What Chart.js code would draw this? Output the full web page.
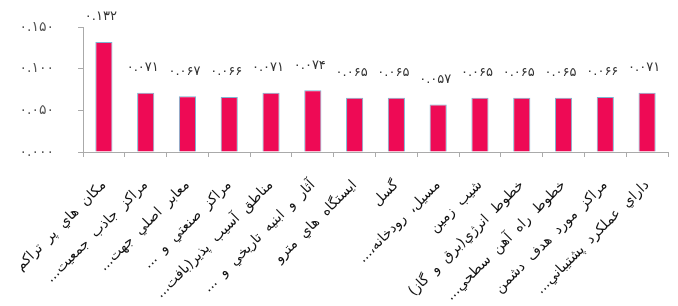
<!DOCTYPE html>
<html>
<head>
<meta charset="utf-8">
<script src="https://cdn.jsdelivr.net/npm/chart.js@4/dist/chart.umd.min.js"></script>
<style>
  html, body { margin: 0; padding: 0; background: #fff; }
  #wrap { width: 678px; height: 306px; }
</style>
</head>
<body>
<div id="wrap"><canvas id="c" width="678" height="306"></canvas></div>
<script>
const categories = [
  "مکان هاي پر تراکم",
  "مراکز جاذب جمعيت...",
  "معابر اصلي جهت...",
  "مراکز صنعتي و ...",
  "مناطق آسيب پذير(بافت...",
  "آثار و ابنيه تاريخي و ...",
  "ايستگاه هاي مترو",
  "گسل",
  "مسيل، رودخانه،...",
  "شيب زمين",
  "خطوط انرژي(برق و گاز)",
  "خطوط راه آهن سطحي...",
  "مراکز مورد هدف دشمن",
  "داراي عملکرد پشتيباني..."
];
const values = [0.132, 0.071, 0.067, 0.066, 0.071, 0.074, 0.065, 0.065, 0.057, 0.065, 0.065, 0.065, 0.066, 0.071];
const yTicks = [0, 0.05, 0.10, 0.15];

const faDigits = "۰۱۲۳۴۵۶۷۸۹";
function toFa(v) {
  return v.toFixed(3).replace(/\d/g, d => faDigits[+d]);
}
const RLM = "\u200F";

const FONT = "'DejaVu Sans', 'Noto Sans', sans-serif";

const spacing = {
  id: "spacing",
  beforeDraw(chart) { chart.ctx.wordSpacing = "4px"; },
  afterDraw(chart) { chart.ctx.wordSpacing = "0px"; }
};

const valueLabels = {
  id: "valueLabels",
  afterDatasetsDraw(chart) {
    const ctx = chart.ctx;
    const meta = chart.getDatasetMeta(0);
    ctx.save();
    ctx.font = "13px " + FONT;
    ctx.fillStyle = "#333";
    ctx.textAlign = "center";
    ctx.textBaseline = "middle";
    meta.data.forEach((el, i) => {
      ctx.fillText(toFa(values[i]), el.x - 3, el.y - 25);
    });
    ctx.restore();
  }
};

new Chart(document.getElementById("c"), {
  type: "bar",
  data: {
    labels: categories.map(s => RLM + s + RLM),
    datasets: [{
      data: values,
      backgroundColor: "#EE0A55",
      borderColor: "rgba(70,150,190,0.7)",
      borderWidth: 1,
      barPercentage: 0.41,
      categoryPercentage: 1.0
    }]
  },
  options: {
    responsive: false,
    animation: false,
    layout: { padding: { top: 27, right: 10, left: 0, bottom: 0 } },
    plugins: {
      legend: { display: false },
      tooltip: { enabled: false }
    },
    scales: {
      x: {
        type: "category",
        offset: true,
        afterFit(scale) {
          scale.height = 154;
          scale.paddingLeft = 0;
          scale.paddingRight = 0;
        },
        grid: { offset: true, drawOnChartArea: false, drawTicks: true, tickLength: 5, color: "#aaa" },
        border: { color: "#aaa" },
        ticks: {
          autoSkip: false,
          maxRotation: 45,
          minRotation: 45,
          padding: 20,
          color: "#111",
          font: { family: FONT, size: 14 }
        }
      },
      y: {
        min: 0,
        max: 0.15,
        afterFit(scale) {
          scale.width = 83;
          scale.paddingTop = 0;
          scale.paddingBottom = 0;
        },
        afterBuildTicks(scale) { scale.ticks = yTicks.map(v => ({ value: v })); },
        grid: { drawOnChartArea: false, drawTicks: true, tickLength: 5, color: "#aaa" },
        border: { color: "#aaa" },
        ticks: {
          padding: 24,
          color: "#555",
          font: { family: FONT, size: 14 },
          callback: v => toFa(v)
        }
      }
    }
  },
  plugins: [spacing, valueLabels]
});
</script>
</body>
</html>
